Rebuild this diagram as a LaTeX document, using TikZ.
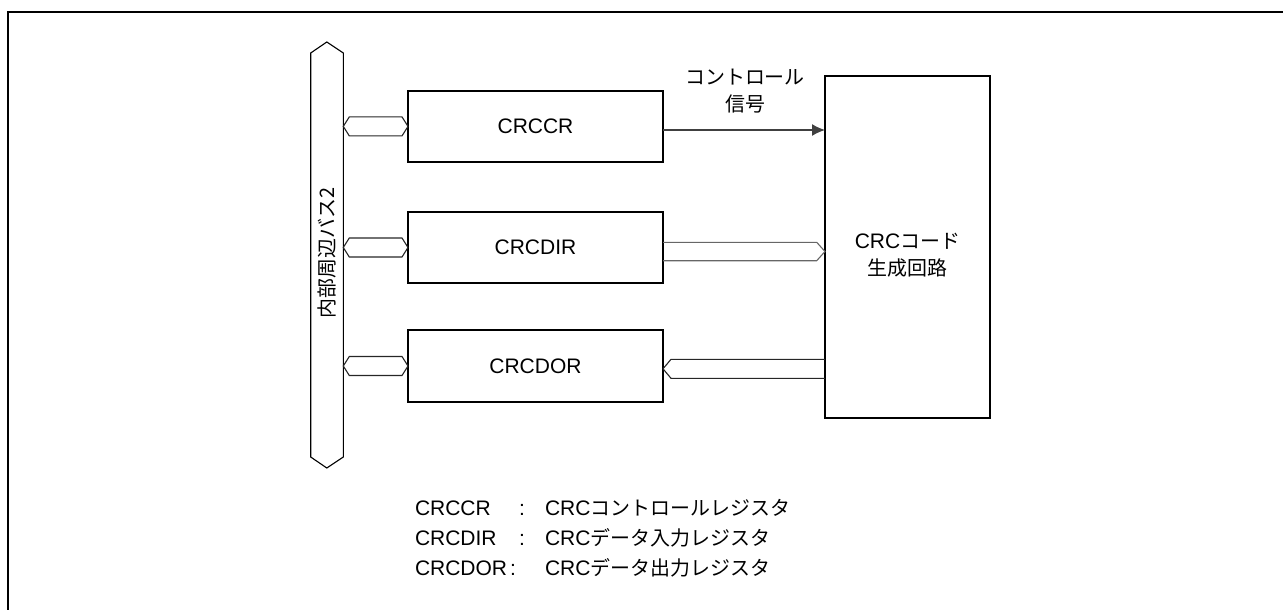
\documentclass[tikz,border=0pt]{standalone}
\usepackage{fontspec}
\setmainfont{Liberation Sans}
\newfontfamily\jp{Noto Sans CJK JP}[Scale=0.95]
\usetikzlibrary{arrows.meta,calc}
\begin{document}
\begin{tikzpicture}[x=1pt,y=-1pt,
  every node/.style={font=\fontsize{21}{27}\selectfont, inner sep=0pt, outer sep=0pt},
  regbox/.style={draw, line width=1.8pt, minimum width=255pt, minimum height=71.5pt},
  genbox/.style={draw, line width=1.8pt, minimum width=165pt, minimum height=342pt},
  hexline/.style={draw=black!85, line width=1.1pt, line join=miter},
  ctrlline/.style={draw=black!75, line width=1.3pt},
  frameline/.style={line width=2.5pt},
]
\useasboundingbox (0,0) rectangle (1283,610);
\begin{scope}
  \clip (0,0) rectangle (1283,610);
  \draw[frameline] (8,12) rectangle (1300,630);
\end{scope}

% internal bus
\draw[line width=1.1pt] (310.7,53) -- (326.8,42) -- (343.3,53) -- (343.3,457) -- (326.8,468) -- (310.7,457) -- cycle;
\coordinate (busR) at (343.3,255);
\node[rotate=90] (buslabel) at (327,253) {\jp{内部周辺バス}2};

% registers
\node[regbox] (ccr) at (535.5,126.4) {CRCCR};
\node[regbox] (dir) at (535.5,247.5) {CRCDIR};
\node[regbox] (dor) at (535.5,366) {CRCDOR};
\node[genbox] (gen) at (907.5,246.7) {};
\node[align=center] (genlbl) at ($(gen.center)+(0,8)$) {CRC\jp{コード}\\\jp{生成回路}};

% bus links
\foreach \b in {ccr,dir,dor} {
  \draw[hexline] (busR |- \b.west) -- ++(6,-9.5) -- ($(\b.west)+(-6,-9.5)$) -- (\b.west)
    -- ($(\b.west)+(-6,9.5)$) -- ($(busR |- \b.west)+(6,9.5)$) -- cycle;
}

% control signal
\draw[ctrlline, -{Latex[length=13pt,width=12pt]}] ($(ccr.east)+(0,3.6)$) -- ($(gen.west |- ccr.east)+(0,3.6)$);
\node[align=center] (ctrllbl) at (745,91.5) {\jp{コントロール}\\\jp{信号}};

% data in
\draw[hexline, draw=black!60] ($(dir.east)+(0,-5.2)$) -- ($(gen.west |- dir.east)+(-8.3,-5.2)$)
  -- ($(gen.west |- dir.east)+(0,4)$) -- ($(gen.west |- dir.east)+(-8.3,13.2)$) -- ($(dir.east)+(0,13.2)$);

% data out
\draw[hexline] ($(gen.west |- dor.east)+(0,-6.7)$) -- ($(dor.east)+(8,-6.7)$)
  -- ($(dor.east)+(0,2.8)$) -- ($(dor.east)+(8,12.3)$) -- ($(gen.west |- dor.east)+(0,12.3)$);

% legend
\node[anchor=base west] (l1a) at (415,515) {CRCCR};
\node[anchor=base] (l1b) at (522,515) {:};
\node[anchor=base west] (l1c) at (545,515) {CRC\jp{コントロールレジスタ}};
\node[anchor=base west] (l2a) at (415,545) {CRCDIR};
\node[anchor=base] (l2b) at (522,545) {:};
\node[anchor=base west] (l2c) at (545,545) {CRC\jp{データ入力レジスタ}};
\node[anchor=base west] (l3a) at (415,575) {CRCDOR};
\node[anchor=base] (l3b) at (513,575) {:};
\node[anchor=base west] (l3c) at (545,575) {CRC\jp{データ出力レジスタ}};
\end{tikzpicture}
\end{document}
